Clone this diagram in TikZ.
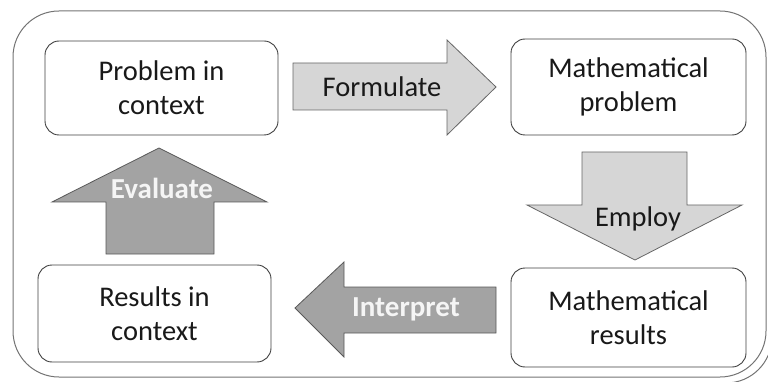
\documentclass[tikz,border=0pt]{standalone}
\usepackage{fontspec}
\setmainfont{Carlito}
\begin{document}
\begin{tikzpicture}[x=1pt,y=-1pt,
  box/.style={draw=black!75, line width=0.9pt, rounded corners=14pt, fill=white},
  lbl/.style={font=\fontsize{28.5}{34}\selectfont, align=center, text=black!90},
  wlbl/.style={font=\fontsize{29}{34}\selectfont\bfseries, align=center, text=white!96!black},
  lightarrow/.style={draw=black!60, line width=0.8pt, fill=black!16},
  darkarrow/.style={draw=black!65, line width=0.8pt, fill=black!36},
  frame/.style={draw=black!55, line width=1pt, rounded corners=46pt}]
\useasboundingbox (0,0) rectangle (768,382);
% outer frame
\draw[frame] (13,11) rectangle (766,377);
\begin{scope}
\clip (0,0) rectangle (768,382);
\draw[draw=black!55, line width=1pt] (726,383) arc[start angle=270, end angle=360, radius=46pt];
\end{scope}
% boxes
\draw[box] (45,41) rectangle (278,135);
\node[lbl] (pic) at (161.5,88) {Problem in\\context};
\draw[box] (511,39) rectangle (746,135);
\node[lbl] (mp) at (628.5,87) {Mathematical\\problem};
\draw[box] (38,265) rectangle (271,362);
\node[lbl] (ric) at (154.5,313.5) {Results in\\context};
\draw[box] (511,268) rectangle (746,367);
\node[lbl] (mr) at (628.5,317.5) {Mathematical\\results};
% Formulate
\draw[lightarrow] (293,63) -- (447,63) -- (447,40) -- (496,87) -- (447,135) -- (447,110) -- (293,110) -- cycle;
\node[lbl] (form) at (382,87) {Formulate};
% Employ
\draw[lightarrow] (582,152) -- (687,152) -- (687,205) -- (742,205) -- (635,260) -- (527,205) -- (582,205) -- cycle;
\node[lbl] (emp) at (638,219) {Employ};
% Evaluate
\draw[darkarrow] (106,254) -- (214,254) -- (214,202) -- (267,202) -- (159,148) -- (52,202) -- (106,202) -- cycle;
\node[wlbl] (eva) at (162,188) {Evaluate};
% Interpret
\draw[darkarrow] (496,287) -- (344,287) -- (344,262) -- (295,308) -- (344,357) -- (344,333) -- (496,333) -- cycle;
\node[wlbl] (int) at (406,309) {Interpret};
\end{tikzpicture}
\end{document}
